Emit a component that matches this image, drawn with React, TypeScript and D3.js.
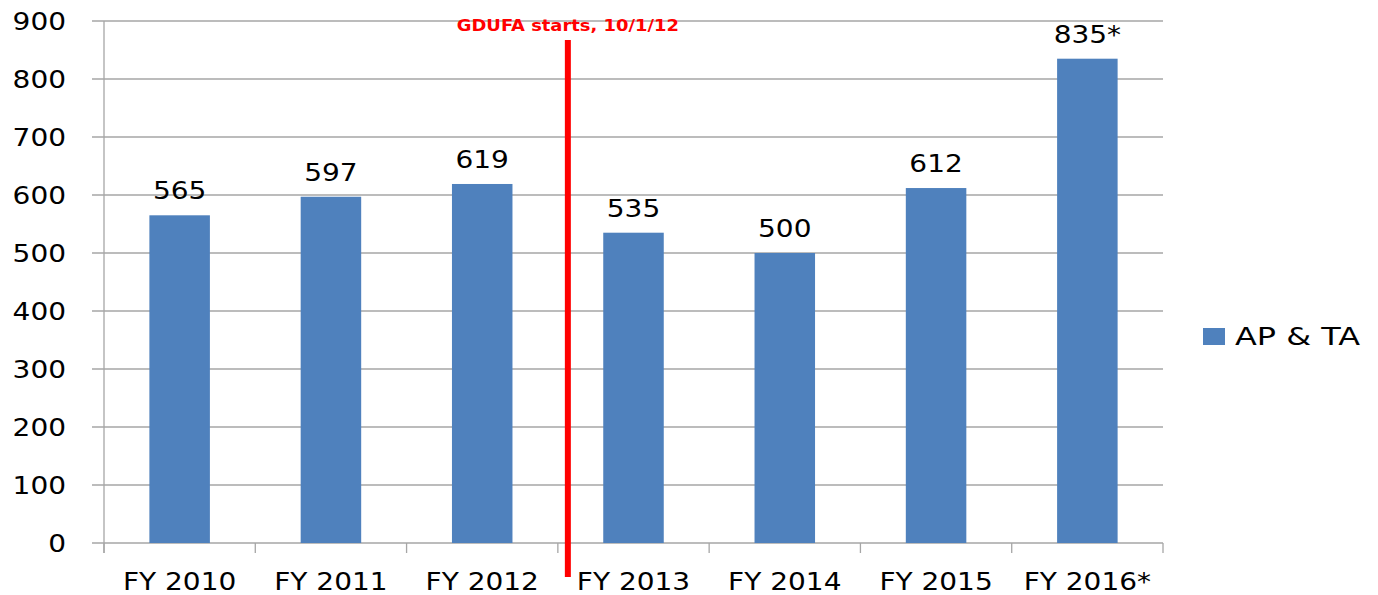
import React from "react";
import * as d3 from "d3";

const categories = ["FY 2010", "FY 2011", "FY 2012", "FY 2013", "FY 2014", "FY 2015", "FY 2016*"];
const values = [565, 597, 619, 535, 500, 612, 835];
const valueLabels = ["565", "597", "619", "535", "500", "612", "835*"];
const yTicks = [0, 100, 200, 300, 400, 500, 600, 700, 800, 900];
const seriesName = "AP & TA";
const markerCategory = "FY 2013";
const markerLabel = "GDUFA starts, 10/1/12";

const W = 1378, H = 595;
const left = 104, right = 1163, top = 21, bottom = 543;
const FONT = "DejaVu Sans, Verdana, sans-serif";

export default function App() {
  const x = d3.scaleBand<string>().domain(categories).range([left, right]).paddingInner(0).paddingOuter(0);
  const y = d3.scaleLinear().domain([0, 900]).range([bottom, top]);
  const bw = x.bandwidth();
  const barW = bw * 0.4;
  const markerX = (x(markerCategory) as number) + 10;
  const boundaries = categories.map((c) => x(c) as number).concat([right]);
  return (
    <svg width={W} height={H} style={{ position: "absolute", left: 0, top: 0, background: "#fff" }}>
      {yTicks.map((t) => (
        <g key={t}>
          <line x1={92} x2={right} y1={y(t)} y2={y(t)} stroke="#a6a6a6" strokeWidth={1.3} />
          <text x={66} y={y(t) + 9} textAnchor="end" fontFamily={FONT} fontSize={25} fill="#000"
            transform={`translate(${66 * -0.12},0) scale(1.12,1)`}>{t}</text>
        </g>
      ))}
      <line x1={left} x2={left} y1={top} y2={bottom + 10} stroke="#a6a6a6" strokeWidth={1.3} />
      {boundaries.map((b, i) => (
        <line key={i} x1={b} x2={b} y1={bottom} y2={bottom + 10} stroke="#a6a6a6" strokeWidth={1.3} />
      ))}
      {categories.map((c, i) => {
        const cx = (x(c) as number) + bw / 2;
        return (
          <g key={c}>
            <rect x={cx - barW / 2} y={y(values[i])} width={barW} height={bottom - y(values[i])} fill="#4f81bd" />
            <text x={cx} y={y(values[i]) - 16} textAnchor="middle" fontFamily={FONT} fontSize={25} fill="#000"
              transform={`translate(${-cx * 0.12},0) scale(1.12,1)`}>{valueLabels[i]}</text>
            <text x={cx} y={590} textAnchor="middle" fontFamily={FONT} fontSize={25} fill="#000"
              transform={`translate(${-cx * 0.12},0) scale(1.12,1)`}>{c}</text>
          </g>
        );
      })}
      <line x1={markerX} x2={markerX} y1={40} y2={577} stroke="#ff0000" strokeWidth={6} />
      <text x={markerX} y={31} textAnchor="middle" fontFamily={FONT} fontWeight="bold" fontSize={16} fill="#ff0000"
        transform={`translate(${-markerX * 0.12},0) scale(1.12,1)`}>{markerLabel}</text>
      <rect x={1203} y={328} width={22} height={17} fill="#4f81bd" />
      <text x={1235} y={345} fontFamily={FONT} fontSize={25} fill="#000"
        textLength={125} lengthAdjust="spacingAndGlyphs">{seriesName}</text>
    </svg>
  );
}
